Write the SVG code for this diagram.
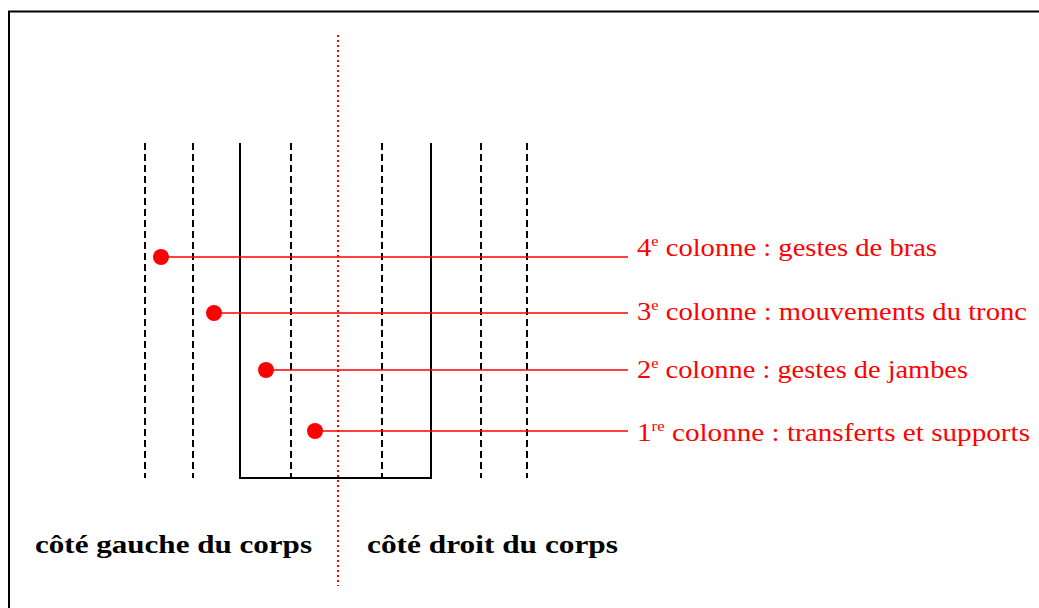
<svg xmlns="http://www.w3.org/2000/svg" width="1039" height="608" viewBox="0 0 1039 608">
<style>
.dash{stroke:#000;stroke-width:2;stroke-dasharray:7,4;fill:none}
.solid{stroke:#000;stroke-width:2;fill:none}
.lead{stroke:#ff0000;stroke-width:1.3;fill:none}
.dot{fill:#ff0000}
.lbl{font-family:"Liberation Serif",serif;font-size:26px;fill:#ff0000}
.sup{font-size:15px}
.side{font-family:"Liberation Serif",serif;font-size:26px;font-weight:bold;fill:#000}
</style>
<rect x="9" y="11.5" width="1100" height="700" fill="none" stroke="#000" stroke-width="2"/>
<g id="staff">
<line class="dash" x1="145" y1="143" x2="145" y2="478"/>
<line class="dash" x1="193" y1="143" x2="193" y2="478"/>
<line class="dash" x1="291" y1="143" x2="291" y2="478"/>
<line class="dash" x1="382" y1="143" x2="382" y2="478"/>
<line class="dash" x1="481" y1="143" x2="481" y2="478"/>
<line class="dash" x1="527" y1="143" x2="527" y2="478"/>
<polyline class="solid" points="240,143 240,478 431,478 431,143"/>
</g>
<line id="axis" x1="338" y1="35" x2="338" y2="586" stroke="#ff0000" stroke-width="2" stroke-dasharray="2,3"/>
<g id="connectors">
<line class="lead" x1="161" y1="257" x2="628" y2="257"/>
<line class="lead" x1="214" y1="313" x2="628" y2="313"/>
<line class="lead" x1="266" y1="370" x2="628" y2="370"/>
<line class="lead" x1="315" y1="431" x2="628" y2="431"/>
</g>
<g id="n4"><circle class="dot" cx="161" cy="257" r="8"/><text class="lbl" x="637" y="256" textLength="300" lengthAdjust="spacingAndGlyphs">4<tspan class="sup" dy="-10">e</tspan><tspan dy="10"> colonne : gestes de bras</tspan></text></g>
<g id="n3"><circle class="dot" cx="214" cy="313" r="8"/><text class="lbl" x="637" y="320" textLength="390" lengthAdjust="spacingAndGlyphs">3<tspan class="sup" dy="-10">e</tspan><tspan dy="10"> colonne : mouvements du tronc</tspan></text></g>
<g id="n2"><circle class="dot" cx="266" cy="370" r="8"/><text class="lbl" x="637" y="378" textLength="331" lengthAdjust="spacingAndGlyphs">2<tspan class="sup" dy="-10">e</tspan><tspan dy="10"> colonne : gestes de jambes</tspan></text></g>
<g id="n1"><circle class="dot" cx="315" cy="431" r="8"/><text class="lbl" x="637" y="441" textLength="393" lengthAdjust="spacingAndGlyphs">1<tspan class="sup" dy="-10">re</tspan><tspan dy="10"> colonne : transferts et supports</tspan></text></g>
<g id="left"><text class="side" x="35" y="553" textLength="277" lengthAdjust="spacingAndGlyphs">côté gauche du corps</text></g>
<g id="right"><text class="side" x="367" y="553" textLength="251" lengthAdjust="spacingAndGlyphs">côté droit du corps</text></g>
</svg>
